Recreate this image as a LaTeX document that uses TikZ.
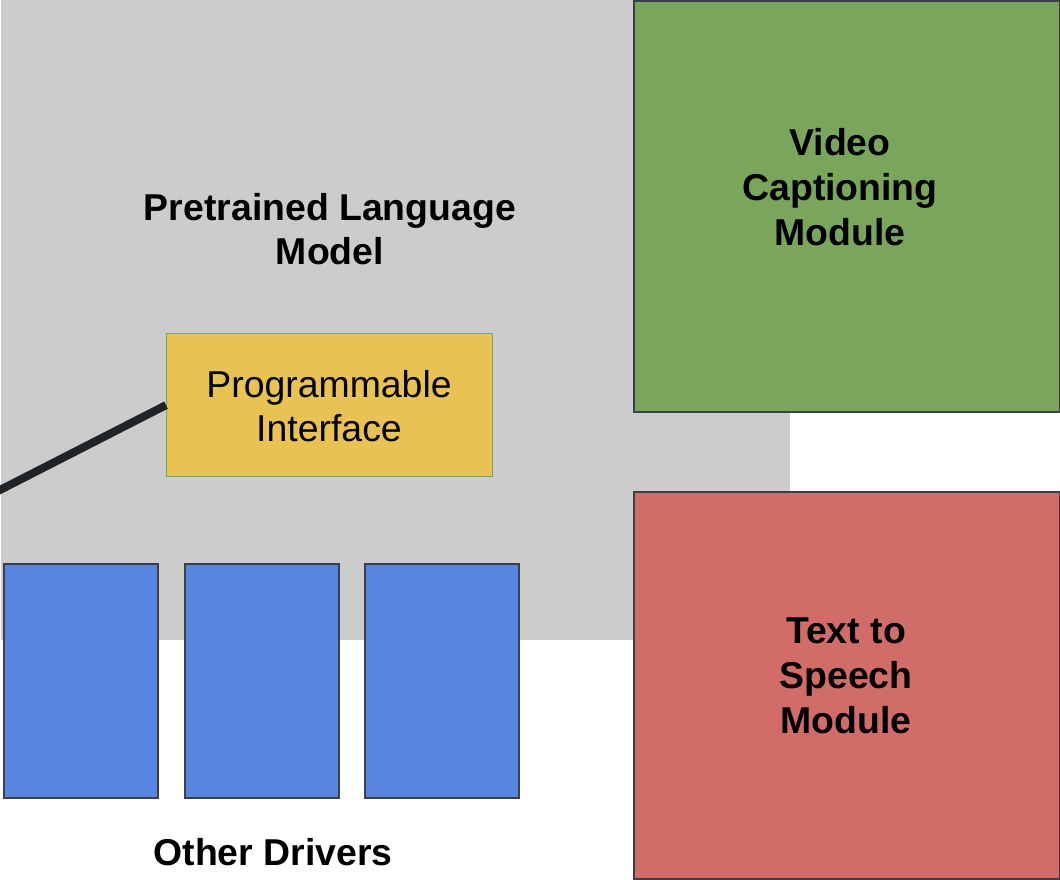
\documentclass[tikz,border=0pt]{standalone}
\usepackage{fontspec}
\setmainfont{Liberation Sans}
\definecolor{bggray}{HTML}{CCCCCC}
\definecolor{vgreen}{HTML}{79A65B}
\definecolor{tred}{HTML}{D16C69}
\definecolor{pyellow}{HTML}{E8C352}
\definecolor{pborder}{HTML}{6AA87A}
\definecolor{dblue}{HTML}{5985E1}
\definecolor{edgegray}{HTML}{3A3F4A}
\definecolor{linedark}{HTML}{202427}
\begin{document}
\begin{tikzpicture}[x=1pt,y=-1pt,
  txt/.style={font=\fontsize{37.4}{44.5}\selectfont, align=center, inner sep=0pt},
  boxstyle/.style={draw=edgegray, line width=1.6pt, inner sep=0pt, anchor=north west},
]
\useasboundingbox (0,0) rectangle (1060,880);
% big gray region
\node[fill=bggray, inner sep=0pt, anchor=north west, minimum width=789pt, minimum height=640pt] (plm) at (1,0) {};
\node[txt, font=\fontsize{37.4}{44.5}\selectfont\bfseries] (plmtxt) at (330,229) {Pretrained Language\\Model};
% green
\node[boxstyle, fill=vgreen, minimum width=426pt, minimum height=411pt] (vcm) at (633,0) {};
\node[txt, font=\fontsize{37.4}{45}\selectfont\bfseries] (vcmtxt) at (840,187) {Video\\Captioning\\Module};
% red
\node[boxstyle, fill=tred, minimum width=426pt, minimum height=387pt] (tts) at (633,491) {};
\node[txt, font=\fontsize{37.4}{45}\selectfont\bfseries] (ttstxt) at (846,676) {Text to\\Speech\\Module};
% yellow
\node[draw=pborder, line width=1.3pt, fill=pyellow, inner sep=0pt, anchor=north west, minimum width=326pt, minimum height=143pt] (pi) at (166,333) {};
\node[txt] (pitxt) at (329,406) {Programmable\\Interface};
% connector
\coordinate (lend) at (-2,491);
\draw[linedark, line width=8pt] (lend) -- (pi.west);
% blue drivers
\node[boxstyle, fill=dblue, minimum width=154pt, minimum height=234pt] (d1) at (3,563) {};
\node[boxstyle, fill=dblue, minimum width=154pt, minimum height=234pt] (d2) at (184,563) {};
\node[boxstyle, fill=dblue, minimum width=154pt, minimum height=234pt] (d3) at (364,563) {};
\node[txt, font=\fontsize{37.4}{44.5}\selectfont\bfseries] (odtxt) at (273,852) {Other Drivers};
\end{tikzpicture}
\end{document}
